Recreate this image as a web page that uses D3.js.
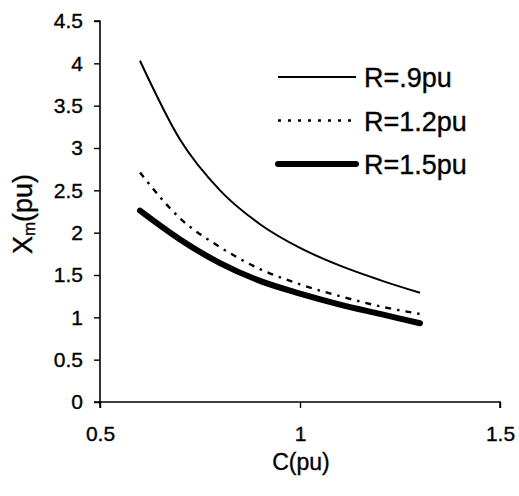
<!DOCTYPE html>
<html>
<head>
<meta charset="utf-8">
<script src="https://cdn.jsdelivr.net/npm/d3@7"></script>
<style>
  body { margin: 0; background: #fff; }
  svg { display: block; }
  text { stroke: #000; stroke-width: 0.35px; }
</style>
</head>
<body>
<div id="chart"></div>
<script>
// values
const capacitance = [0.6, 0.7, 0.8, 0.9, 1.0, 1.1, 1.2, 1.3];
const xmR09 = [4.03, 3.10, 2.50, 2.10, 1.82, 1.61, 1.44, 1.29];
const xmR12 = [2.71, 2.17, 1.83, 1.57, 1.39, 1.25, 1.13, 1.04];
const xmR15 = [2.26, 1.92, 1.64, 1.43, 1.28, 1.15, 1.04, 0.93];
const seriesNames = ["R=.9pu", "R=1.2pu", "R=1.5pu"];
const xTicks = [0.5, 1, 1.5];
const yTicks = [0, 0.5, 1, 1.5, 2, 2.5, 3, 3.5, 4, 4.5];

const width = 519
const height = 496

const svg = d3.select("#chart")
  .append("svg")
    .attr("width", width)
    .attr("height", height)
    .style("font-family", "'Liberation Sans', Arial, sans-serif")

var x = d3.scaleLinear().domain([0.5, 1.5]).range([100, 500]);
var y = d3.scaleLinear().domain([0, 4.5]).range([402, 21]);

// axes
var xAxis = svg.append("g")
  .attr("transform", "translate(0,402)")
  .call(d3.axisBottom(x).tickValues(xTicks).tickSize(6).tickPadding(18)
    .tickFormat(d3.format("")))
xAxis.select(".domain").attr("stroke-width", 1.6).attr("d", "M100,6V0H500V6")
xAxis.selectAll(".tick line").attr("stroke-width", 1.4)
xAxis.selectAll(".tick text").attr("font-size", "21px").attr("fill", "#000")

var yAxis = svg.append("g")
  .attr("transform", "translate(100,0)")
  .call(d3.axisLeft(y).tickValues(yTicks).tickSize(6).tickPadding(11)
    .tickFormat(d3.format("")))
yAxis.select(".domain").attr("stroke-width", 1.6).attr("d", "M-6,21H0V402H-6")
yAxis.selectAll(".tick line").attr("stroke-width", 1.4)
yAxis.selectAll(".tick text").attr("font-size", "21px").attr("fill", "#000")

// axis titles
svg.append("text")
  .attr("x", 301)
  .attr("y", 470)
  .attr("text-anchor", "middle")
  .attr("font-size", "23px")
  .text("C(pu)")

var yTitle = svg.append("text")
  .attr("transform", "translate(32,214) rotate(-90)")
  .attr("text-anchor", "middle")
  .attr("font-size", "27px")
yTitle.append("tspan").text("X")
yTitle.append("tspan").attr("font-size", "17px").attr("dy", 3).text("m")
yTitle.append("tspan").attr("dy", -3).text("(pu)")

// curves
var styles = [
  { width: 2, dash: null, legendDash: null },
  { width: 2.4, dash: "6,6,2.5,6", legendDash: "3,7" },
  { width: 6, dash: null, legendDash: null }
];
var seriesData = [xmR09, xmR12, xmR15];

var line = d3.line()
  .x(function(d, i) { return x(capacitance[i]); })
  .y(function(d) { return y(d); })
  .curve(d3.curveMonotoneX);

svg.append("g")
  .selectAll("path")
  .data(seriesData)
  .enter()
  .append("path")
    .attr("d", line)
    .attr("fill", "none")
    .attr("stroke", "#000")
    .attr("stroke-width", function(d, i) { return styles[i].width; })
    .attr("stroke-dasharray", function(d, i) { return styles[i].dash; })
    .attr("stroke-linecap", function(d, i) { return i == 2 ? "round" : "butt"; })

// legend
var legend = svg.append("g")
  .selectAll("g")
  .data(seriesNames)
  .enter()
  .append("g")
    .attr("transform", function(d, i) { return "translate(278," + (77 + i * 43.5) + ")"; })

legend.append("line")
  .attr("x1", 0)
  .attr("x2", 78)
  .attr("stroke", "#000")
  .attr("stroke-width", function(d, i) { return styles[i].width; })
  .attr("stroke-dasharray", function(d, i) { return styles[i].legendDash; })
  .attr("stroke-linecap", function(d, i) { return i == 2 ? "round" : "butt"; })

legend.append("text")
  .attr("x", 86)
  .attr("y", 10)
  .attr("font-size", "27px")
  .text(function(d) { return d; })
</script>
</body>
</html>
